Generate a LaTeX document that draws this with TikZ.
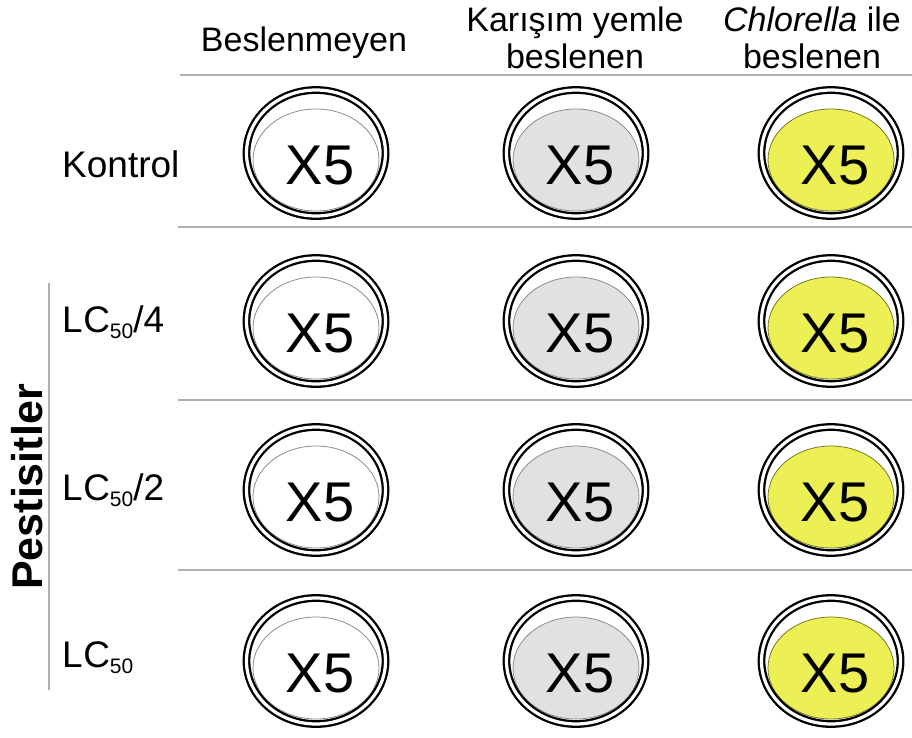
\documentclass[tikz,border=0pt]{standalone}
\usepackage{fontspec}
\setmainfont{Liberation Sans}
\definecolor{sepgray}{RGB}{175,175,175}
\definecolor{dishgray}{RGB}{225,225,225}
\definecolor{dishyellow}{RGB}{236,240,85}
\definecolor{yedge}{RGB}{120,120,40}
\definecolor{wedge}{RGB}{140,140,140}
\tikzset{
  sepline/.style={draw=sepgray, line width=1.5pt},
  ring/.style={draw=black, line width=2.3pt, double=white, double distance=3.2pt},
  hdr/.style={font=\fontsize{34}{38}\selectfont, anchor=base, inner sep=0pt},
  rowlab/.style={font=\fontsize{37}{40}\selectfont, anchor=base west, inner sep=0pt},
  xfive/.style={font=\fontsize{56}{60}\selectfont, anchor=base, inner sep=0pt}
}
\newcommand{\lcsub}{L\kern0.5pt C\raisebox{-6pt}{\fontsize{21}{21}\selectfont 50}}
\begin{document}
\begin{tikzpicture}[x=1pt,y=-1pt]
\useasboundingbox (0,0) rectangle (912,737);
% header
\node[hdr] (h1) at (304,51) {Beslenmeyen};
\node[hdr] (h2a) at (575,31) {Karışım yemle};
\node[hdr] (h2b) at (575,68) {beslenen};
\node[hdr] (h3a) at (812,31) {\textit{Chlorella} ile};
\node[hdr] (h3b) at (812,68) {beslenen};
% separators
\foreach \i/\y/\xs in {0/75/180,1/227/178,2/400/178,3/570/178}{
  \coordinate (s\i a) at (\xs,\y);
  \coordinate (s\i b) at (912,\y);
  \draw[sepline] (s\i a) -- (s\i b);
}
\coordinate (va) at (49,283);
\coordinate (vb) at (49,690);
\draw[sepline] (va) -- (vb);
% row labels
\node[rowlab] (r1) at (62,177) {Kontrol};
\node[rowlab] (r2) at (62,332) {\lcsub/4};
\node[rowlab] (r3) at (62,500) {\lcsub/2};
\node[rowlab] (r4) at (62,667) {\lcsub};
\node[rotate=90, anchor=base, inner sep=0pt, font=\bfseries\fontsize{43}{43}\selectfont] (pest) at (42,487) {Pestisitler};
% dishes
\foreach \c/\x/\f/\e in {1/316/white/wedge, 2/576/dishgray/wedge, 3/831/dishyellow/yedge}{
  \foreach \r/\y in {1/153,2/321,3/490,4/661}{
    \coordinate (d\r\c) at (\x,\y);
    \draw[fill=\f, draw=\e, line width=0.8pt] (\x,{\y+7}) ellipse [x radius=63pt, y radius=51pt];
    \draw[ring] (d\r\c) ellipse [x radius=69.5pt, y radius=63pt];
    \node[xfive] (x\r\c) at ({\x+4},{\y+31}) {X5};
  }
}
\end{tikzpicture}
\end{document}
